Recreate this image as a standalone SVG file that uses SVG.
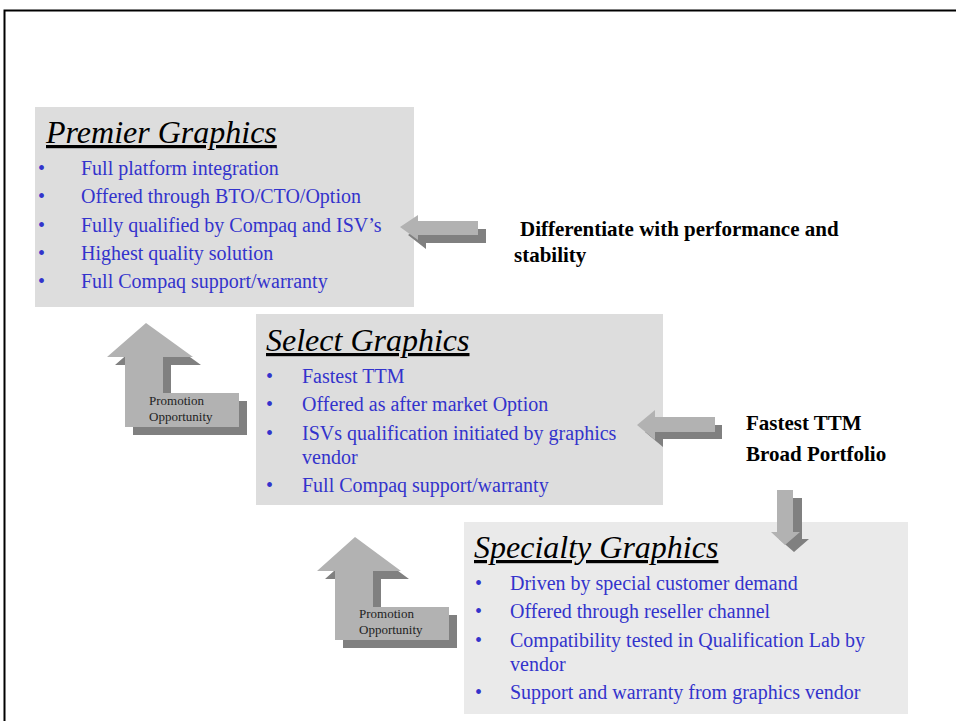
<svg xmlns="http://www.w3.org/2000/svg" width="956" height="721" viewBox="0 0 956 721">
<style>
.title{font-family:"Liberation Serif",serif;font-style:italic;font-size:32px;fill:#000;text-decoration:underline}
.item{font-family:"Liberation Serif",serif;font-size:20px;fill:#3333cc}
.note{font-family:"Liberation Serif",serif;font-size:21px;font-weight:bold;fill:#000}
.promo{font-family:"Liberation Serif",serif;font-size:13px;fill:#222}
.lite{fill:#b2b2b2}
.dark{fill:#808080}
</style>
<rect width="956" height="721" fill="#fff"/>
<rect x="4.5" y="10.5" width="960" height="720" fill="none" stroke="#000" stroke-width="2"/>

<g id="premier">
<rect x="35" y="107" width="379" height="200" fill="#dddddd"/>
<text class="title" x="46" y="143">Premier Graphics</text>
<g class="item">
<text x="38" y="175">•</text><text x="81" y="175">Full platform integration</text>
<text x="38" y="203">•</text><text x="81" y="203">Offered through BTO/CTO/Option</text>
<text x="38" y="232">•</text><text x="81" y="232">Fully qualified by Compaq and ISV’s</text>
<text x="38" y="260">•</text><text x="81" y="260">Highest quality solution</text>
<text x="38" y="288">•</text><text x="81" y="288">Full Compaq support/warranty</text>
</g>
</g>

<g id="select">
<rect x="256" y="314" width="407" height="191" fill="#dddddd"/>
<text class="title" x="266" y="351">Select Graphics</text>
<g class="item">
<text x="266" y="383">•</text><text x="302" y="383">Fastest TTM</text>
<text x="266" y="411">•</text><text x="302" y="411">Offered as after market Option</text>
<text x="266" y="440">•</text><text x="302" y="440">ISVs qualification initiated by graphics</text>
<text x="302" y="464">vendor</text>
<text x="266" y="492">•</text><text x="302" y="492">Full Compaq support/warranty</text>
</g>
</g>

<g id="specialty">
<rect x="464" y="522" width="444" height="192" fill="#eaeaea"/>
<text class="title" x="474" y="558">Specialty Graphics</text>
<g class="item">
<text x="475" y="590">•</text><text x="510" y="590">Driven by special customer demand</text>
<text x="475" y="618">•</text><text x="510" y="618">Offered through reseller channel</text>
<text x="475" y="647">•</text><text x="510" y="647">Compatibility tested in Qualification Lab by</text>
<text x="510" y="671">vendor</text>
<text x="475" y="699">•</text><text x="510" y="699">Support and warranty from graphics vendor</text>
</g>
</g>

<g id="note1">
<text class="note" x="520" y="236">Differentiate with performance and</text>
<text class="note" x="514" y="262">stability</text>
</g>
<g id="note2">
<text class="note" x="746" y="430">Fastest TTM</text>
<text class="note" x="746" y="461">Broad Portfolio</text>
</g>

<g id="connectors">
<path class="dark" d="M408,235 L426,223 L426,229 L486,229 L486,243 L426,243 L426,249 Z"/>
<path class="lite" d="M400,227 L418,215 L418,221 L478,221 L478,235 L418,235 L418,240 Z"/>
<path class="dark" d="M645,432 L663,418 L663,425 L722,425 L722,439 L663,439 L663,447 Z"/>
<path class="lite" d="M637,425 L655,410 L655,417 L715,417 L715,432 L655,432 L655,440 Z"/>
<path class="dark" d="M786,498 L802,498 L802,539 L809,539 L794,552 L779,539 L786,539 Z"/>
<path class="lite" d="M777,490 L793,490 L793,532 L800,532 L785,545 L771,532 L777,532 Z"/>
</g>

<g id="promo1">
<path class="dark" d="M154,331 L201,365 L171,365 L171,401 L247,401 L247,435 L133,435 L133,365 L115,365 Z"/>
<path class="lite" d="M146,323 L193,357 L163,357 L163,393 L239,393 L239,427 L125,427 L125,357 L107,357 Z"/>
<text class="promo" x="149" y="405">Promotion</text>
<text class="promo" x="149" y="421">Opportunity</text>
</g>

<g id="promo2">
<path class="dark" d="M363,545 L409,579 L381,579 L381,615 L457,615 L457,648 L343,648 L343,579 L325,579 Z"/>
<path class="lite" d="M355,537 L401,571 L373,571 L373,607 L449,607 L449,640 L335,640 L335,571 L317,571 Z"/>
<text class="promo" x="359" y="618">Promotion</text>
<text class="promo" x="359" y="634">Opportunity</text>
</g>
</svg>
